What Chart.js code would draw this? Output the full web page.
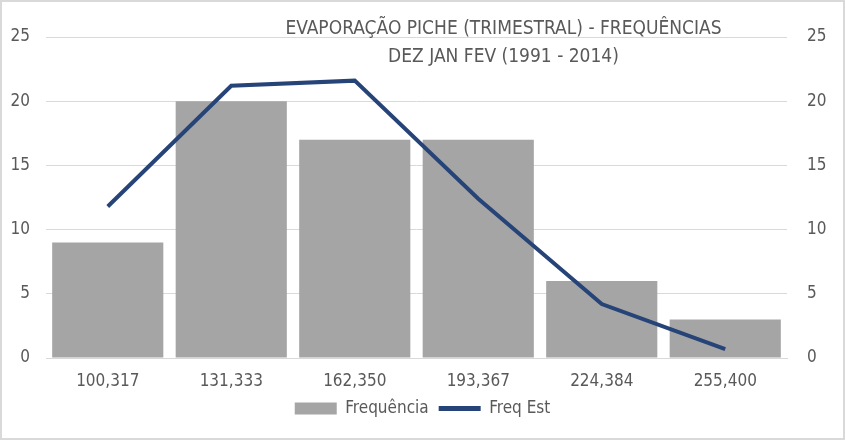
<!DOCTYPE html>
<html>
<head>
<meta charset="utf-8">
<script src="https://cdn.jsdelivr.net/npm/chart.js@4/dist/chart.umd.min.js"></script>
<style>
  html, body { margin: 0; padding: 0; background: #fff; }
  #wrap { position: relative; width: 845px; height: 440px; box-sizing: border-box; border: 2px solid #d9d9d9; background: #fff; }
  #chart { display: block; }
  #title {
    position: absolute; left: 0; width: 1003px; top: 11px; text-align: center;
    font-family: "Liberation Sans Narrow", "DejaVu Sans Condensed", sans-serif;
    font-size: 19px; line-height: 28px; color: #595959; pointer-events: none;
  }
</style>
</head>
<body>
<div id="wrap">
  <canvas id="chart" width="841" height="436"></canvas>
  <div id="title">EVAPORAÇÃO PICHE (TRIMESTRAL) - FREQUÊNCIAS<br>DEZ JAN FEV (1991 - 2014)</div>
</div>
<script>
// Class midpoints and counts
const categories = ['100,317', '131,333', '162,350', '193,367', '224,384', '255,400'];
const frequencia = [9, 20, 17, 17, 6, 3];
const freqEst = [11.8, 21.2, 21.6, 12.4, 4.2, 0.7];
const yTicks = [0, 5, 10, 15, 20, 25];

const textColor = '#595959';
const fontFamily = '"Liberation Sans Narrow", "DejaVu Sans Condensed", sans-serif';

const ctx = document.getElementById('chart').getContext('2d');

new Chart(ctx, {
    data: {
        labels: categories,
        datasets: [
            {
                type: 'line',
                label: 'Freq Est',
                data: freqEst,
                borderColor: '#264478',
                backgroundColor: '#264478',
                borderWidth: 4,
                pointRadius: 0,
                tension: 0,
                yAxisID: 'y',
                order: 0
            },
            {
                type: 'bar',
                label: 'Frequência',
                data: frequencia,
                backgroundColor: '#a5a5a5',
                barPercentage: 0.9,
                categoryPercentage: 1,
                yAxisID: 'y',
                order: 1
            }
        ]
    },
    options: {
        responsive: false,
        animation: false,
        layout: { padding: { top: 35, left: 0, right: 0, bottom: 11 } },
        scales: {
            x: {
                grid: { display: false, drawTicks: false },
                border: { color: '#d9d9d9' },
                ticks: { color: textColor, font: { family: fontFamily, size: 17 }, padding: 13 },
                afterFit: (scale) => { scale.height = 32; }
            },
            y: {
                position: 'left',
                min: 0, max: 25,
                afterBuildTicks: (scale) => { scale.ticks = yTicks.map(v => ({ value: v })); },
                grid: { color: '#d9d9d9', drawTicks: false },
                border: { display: false },
                ticks: { color: textColor, font: { family: fontFamily, size: 17 }, padding: 16 },
                afterFit: (scale) => { scale.width = 44; }
            },
            y1: {
                position: 'right',
                min: 0, max: 25,
                afterBuildTicks: (scale) => { scale.ticks = yTicks.map(v => ({ value: v })); },
                grid: { display: false, drawTicks: false },
                border: { display: false },
                ticks: { color: textColor, font: { family: fontFamily, size: 17 }, padding: 20 },
                afterFit: (scale) => { scale.width = 56; }
            }
        },
        plugins: {
            title: { display: false },
            tooltip: { enabled: false },
            legend: {
                position: 'bottom',
                reverse: true,
                labels: {
                    color: textColor,
                    font: { family: fontFamily, size: 17 },
                    usePointStyle: true,
                    pointStyleWidth: 42,
                    boxHeight: 12,
                    padding: 10,
                    generateLabels: (chart) => chart.data.datasets.map((ds, i) => ({
                        text: ds.label,
                        fillStyle: ds.backgroundColor,
                        strokeStyle: ds.type === 'line' ? ds.borderColor : ds.backgroundColor,
                        lineWidth: ds.type === 'line' ? 5 : 0,
                        pointStyle: ds.type === 'line' ? 'line' : 'rect',
                        fontColor: textColor,
                        datasetIndex: i,
                        hidden: false
                    }))
                }
            }
        }
    }
});
</script>
</body>
</html>
